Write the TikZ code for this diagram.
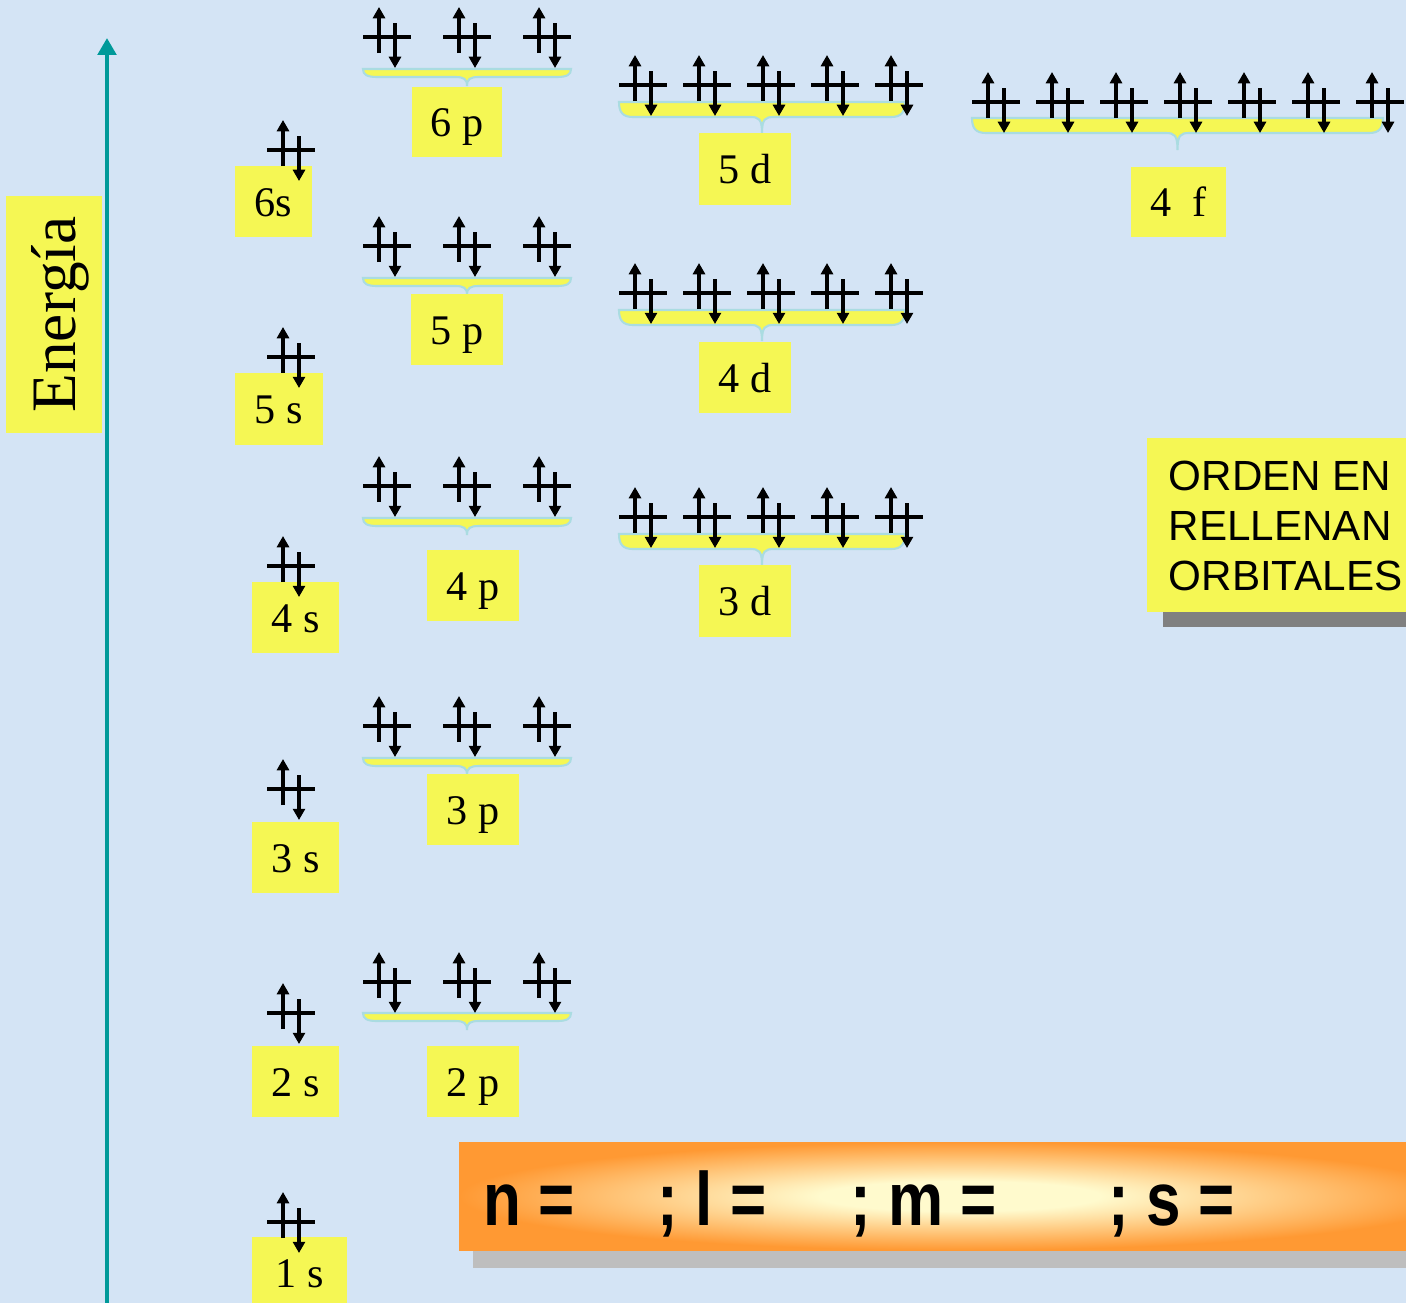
\documentclass[tikz,border=0pt]{standalone}
\usepackage{fontspec}
\setmainfont{Liberation Serif}
\newfontfamily\arialfont{Liberation Sans}
\newfontfamily\narrowfont[FakeStretch=0.82]{Liberation Sans}
\usetikzlibrary{arrows.meta}

\definecolor{bgblue}{RGB}{212,228,245}
\definecolor{boxyellow}{RGB}{245,247,84}
\definecolor{bracerim}{RGB}{170,220,225}
\definecolor{axisteal}{RGB}{0,153,153}
\definecolor{norange}{RGB}{255,153,51}
\definecolor{nlight}{RGB}{255,250,205}
\definecolor{shadowlight}{RGB}{190,190,190}
\definecolor{shadowdark}{RGB}{128,128,128}

\pgfdeclareradialshading{quantumglow}{\pgfpoint{0bp}{0bp}}{color(0bp)=(nlight); color(7bp)=(nlight); color(25bp)=(norange); color(50bp)=(norange)}

% one full orbital: up arrow left, down arrow right
\newcommand{\spinpair}[2]{%
	\draw[spinline] (#1-24,#2) -- (#1+24,#2);
	\draw[spinarrow] (#1-8,#2+16) -- (#1-8,#2-30);
	\draw[spinarrow] (#1+8,#2-14) -- (#1+8,#2+31);
}

% brace under a group: left, right, top, thickness, tip
\newcommand{\orbbrace}[5]{%
	\pgfmathsetmacro\bmid{(#1+#2)/2}
	\filldraw[bracefill] (#1,#3) -- (#2,#3)
		.. controls (#2,#3+#4*0.7) and (#2-4,#3+#4) .. (#2-14,#3+#4)
		-- (\bmid+12,#3+#4)
		.. controls (\bmid+3,#3+#4) and (\bmid,#3+#4+2) .. (\bmid,#3+#4+#5)
		.. controls (\bmid,#3+#4+2) and (\bmid-3,#3+#4) .. (\bmid-12,#3+#4)
		-- (#1+14,#3+#4)
		.. controls (#1+4,#3+#4) and (#1,#3+#4*0.7) .. (#1,#3) -- cycle;
}

\begin{document}
\begin{tikzpicture}[x=0.01cm, y=-0.01cm,
		spinline/.style={line width=0.9pt},
		spinarrow/.style={line width=0.9pt, -{Triangle[length=3.2pt,width=3.4pt]}},
		bracefill/.style={fill=boxyellow, draw=bracerim, line width=0.6pt},
		orbbox/.style={fill=boxyellow, inner sep=0pt, text height=8.4pt, text depth=0pt, font=\fontsize{12}{14}\selectfont},
		ordertext/.style={anchor=base west, inner sep=0pt, font=\arialfont\fontsize{12}{14}\selectfont},
		qnumtext/.style={anchor=base west, inner sep=0pt, font=\narrowfont\bfseries\fontsize{21.5}{24}\selectfont}
	]
	\useasboundingbox (0,0) rectangle (1406,1303);
	\clip (0,0) rectangle (1406,1303);
	\fill[bgblue] (0,0) rectangle (1406,1303);

	% energy axis
	\node[fill=boxyellow, rotate=90, inner sep=0pt, minimum width=2.37cm, minimum height=0.96cm,
		text height=12.5pt, text depth=0pt, font=\fontsize{18}{20}\selectfont] (energia) at (54,314.5) {Energía};
	\coordinate (axisbot) at (107,1320);
	\coordinate (axistop) at (107,38);
	\draw[axisteal, line width=1.15pt, -{Triangle[length=4.8pt,width=5.2pt]}] (axisbot) -- (axistop);

	% braces
	\foreach \y in {69,278,518,758,1013} {\orbbrace{363}{571}{\y}{8}{9}}
	\foreach \y in {102,310,534} {\orbbrace{619}{905}{\y}{15}{16}}
	\orbbrace{972}{1383}{118}{15}{17}

	% labels
	\node[orbbox, minimum width=0.77cm, minimum height=0.71cm] (s6) at (273.5,201.5) {6s};
	\node[orbbox, minimum width=0.88cm, minimum height=0.72cm] (s5) at (279,409) {5 s};
	\node[orbbox, minimum width=0.87cm, minimum height=0.71cm] (s4) at (295.5,617.5) {4 s};
	\node[orbbox, minimum width=0.87cm, minimum height=0.71cm] (s3) at (295.5,857.5) {3 s};
	\node[orbbox, minimum width=0.87cm, minimum height=0.71cm] (s2) at (295.5,1081.5) {2 s};
	\node[orbbox, minimum width=0.95cm, minimum height=0.71cm] (s1) at (299.5,1272.5) {1 s};
	\node[orbbox, minimum width=0.90cm, minimum height=0.70cm] (p6) at (457,122) {6 p};
	\node[orbbox, minimum width=0.92cm, minimum height=0.71cm] (p5) at (457,329.5) {5 p};
	\node[orbbox, minimum width=0.92cm, minimum height=0.71cm] (p4) at (473,585.5) {4 p};
	\node[orbbox, minimum width=0.92cm, minimum height=0.71cm] (p3) at (473,809.5) {3 p};
	\node[orbbox, minimum width=0.92cm, minimum height=0.71cm] (p2) at (473,1081.5) {2 p};
	\node[orbbox, minimum width=0.92cm, minimum height=0.72cm] (d5) at (745,169) {5 d};
	\node[orbbox, minimum width=0.92cm, minimum height=0.71cm] (d4) at (745,377.5) {4 d};
	\node[orbbox, minimum width=0.92cm, minimum height=0.72cm] (d3) at (745,601) {3 d};
	\node[orbbox, minimum width=0.95cm, minimum height=0.70cm] (f4) at (1178.5,202) {4~~f};

	% orbitals
	\foreach \y in {150,357,566,789,1013,1222} {\spinpair{291}{\y}}
	\foreach \y in {37,246,486,726,982} {
		\foreach \x in {387,467,547} {\spinpair{\x}{\y}}
	}
	\foreach \y in {85,293,517} {
		\foreach \x in {643,707,...,899} {\spinpair{\x}{\y}}
	}
	\foreach \x in {996,1060,...,1380} {\spinpair{\x}{102}}

	% order box
	\fill[shadowdark] (1163,453) rectangle (1520,627);
	\fill[boxyellow] (1147,438) rectangle (1505,612);
	\node[ordertext] (ord1) at (1168,490) {ORDEN EN};
	\node[ordertext] (ord2) at (1168,540) {RELLENAN};
	\node[ordertext] (ord3) at (1168,590) {ORBITALES};

	% quantum numbers
	\fill[shadowlight] (473,1160) rectangle (1475,1268);
	\shade[shading=quantumglow] (459,1142) rectangle (1461,1250);
	\node[qnumtext] (qn) at (483,1225) {n =};
	\node[qnumtext] (ql) at (657,1225) {; l =};
	\node[qnumtext] (qm) at (850,1225) {; m =};
	\node[qnumtext] (qs) at (1108,1225) {; s =};
\end{tikzpicture}
\end{document}
